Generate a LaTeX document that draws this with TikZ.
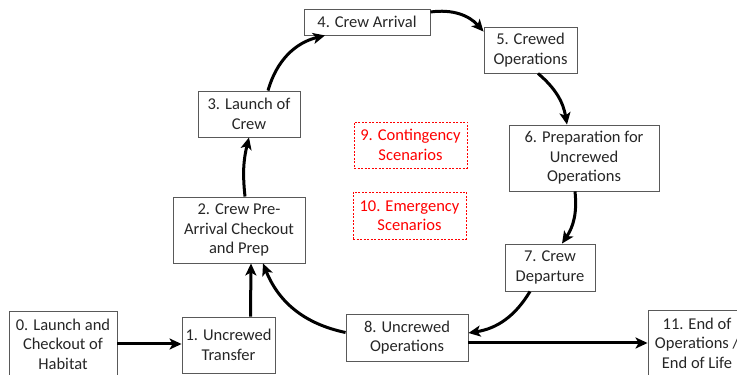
\documentclass[tikz,border=0pt]{standalone}
\usepackage{fontspec}
\setmainfont{Carlito}
\usetikzlibrary{arrows.meta}
\begin{document}
\begin{tikzpicture}[x=1pt,y=1pt,
    stagebox/.style={draw=black!65,line width=0.9pt,align=center,inner sep=1pt,text=black!85,
      font=\fontsize{16.5}{19.5}\selectfont},
    redbox/.style={stagebox,draw=red,text=red,dash pattern=on 2pt off 1.5pt,line width=0.7pt},
    flow/.style={line width=3pt,-{Stealth[length=12pt,width=11pt,inset=3pt]}}]
      \useasboundingbox (0,0) rectangle (737,375);
      \node[stagebox,minimum width=108pt,minimum height=66pt] (b0) at (63,31) {0. Launch and\\Checkout of\\Habitat};
      \node[stagebox,minimum width=93pt,minimum height=56pt] (b1) at (228.5,30) {1. Uncrewed\\Transfer};
      \node[stagebox,minimum width=132pt,minimum height=66pt] (b2) at (239,145) {2. Crew Pre-\\Arrival Checkout\\and Prep};
      \node[stagebox,minimum width=102pt,minimum height=46pt] (b3) at (249,261) {3. Launch of\\Crew};
      \node[stagebox,minimum width=126pt,minimum height=26pt] (b4) at (367,353) {4. Crew Arrival};
      \node[stagebox,minimum width=93pt,minimum height=46pt] (b5) at (530.5,325) {5. Crewed\\Operations};
      \node[stagebox,minimum width=150pt,minimum height=66pt] (b6) at (584,217) {6. Preparation for\\Uncrewed\\Operations};
      \node[stagebox,minimum width=90pt,minimum height=47pt] (b7) at (550,107.5) {7. Crew\\Departure};
      \node[stagebox,minimum width=122pt,minimum height=47pt] (b8) at (407,37.5) {8. Uncrewed\\Operations};
      \node[redbox,minimum width=113pt,minimum height=46pt] (b9) at (410.5,230) {9. Contingency\\Scenarios};
      \node[redbox,minimum width=113pt,minimum height=47pt] (b10) at (409.5,159.5) {10. Emergency\\Scenarios};
      \node[stagebox,minimum width=98pt,minimum height=66pt] (b11) at (697,32) {11. End of\\Operations /\\End of Life};
      % cycle
      \draw[flow] (b0.east) -- (b0.east -| b1.west);
      \draw[flow] ([xshift=22pt]b1.north) -- ([xshift=12pt]b2.south);
      \draw[flow] ([xshift=6pt]b2.north) to[bend left=10] (b3.south);
      \draw[flow] ([xshift=19pt]b3.north) to[bend left=30] ([xshift=-42pt]b4.south);
      \draw[flow] ([yshift=10pt]b4.east) to[bend left=28] ([yshift=-5pt]b5.north west);
      \draw[flow] ([xshift=7.5pt]b5.south) to[bend left=20] ([xshift=-17pt]b6.north);
      \draw[flow] ([xshift=-9pt]b6.south) to[bend left=20] ([xshift=12pt]b7.north);
      \draw[flow] ([xshift=-20pt]b7.south) to[bend left=25] ([yshift=4.5pt]b8.east);
      \draw[flow] ([yshift=5pt]b8.west) to[bend left=28] ([xshift=24pt]b2.south);
      \draw[flow] ([yshift=-5.5pt]b8.east) -- ([yshift=-5.5pt]b8.east -| b11.west);
\end{tikzpicture}
\end{document}
